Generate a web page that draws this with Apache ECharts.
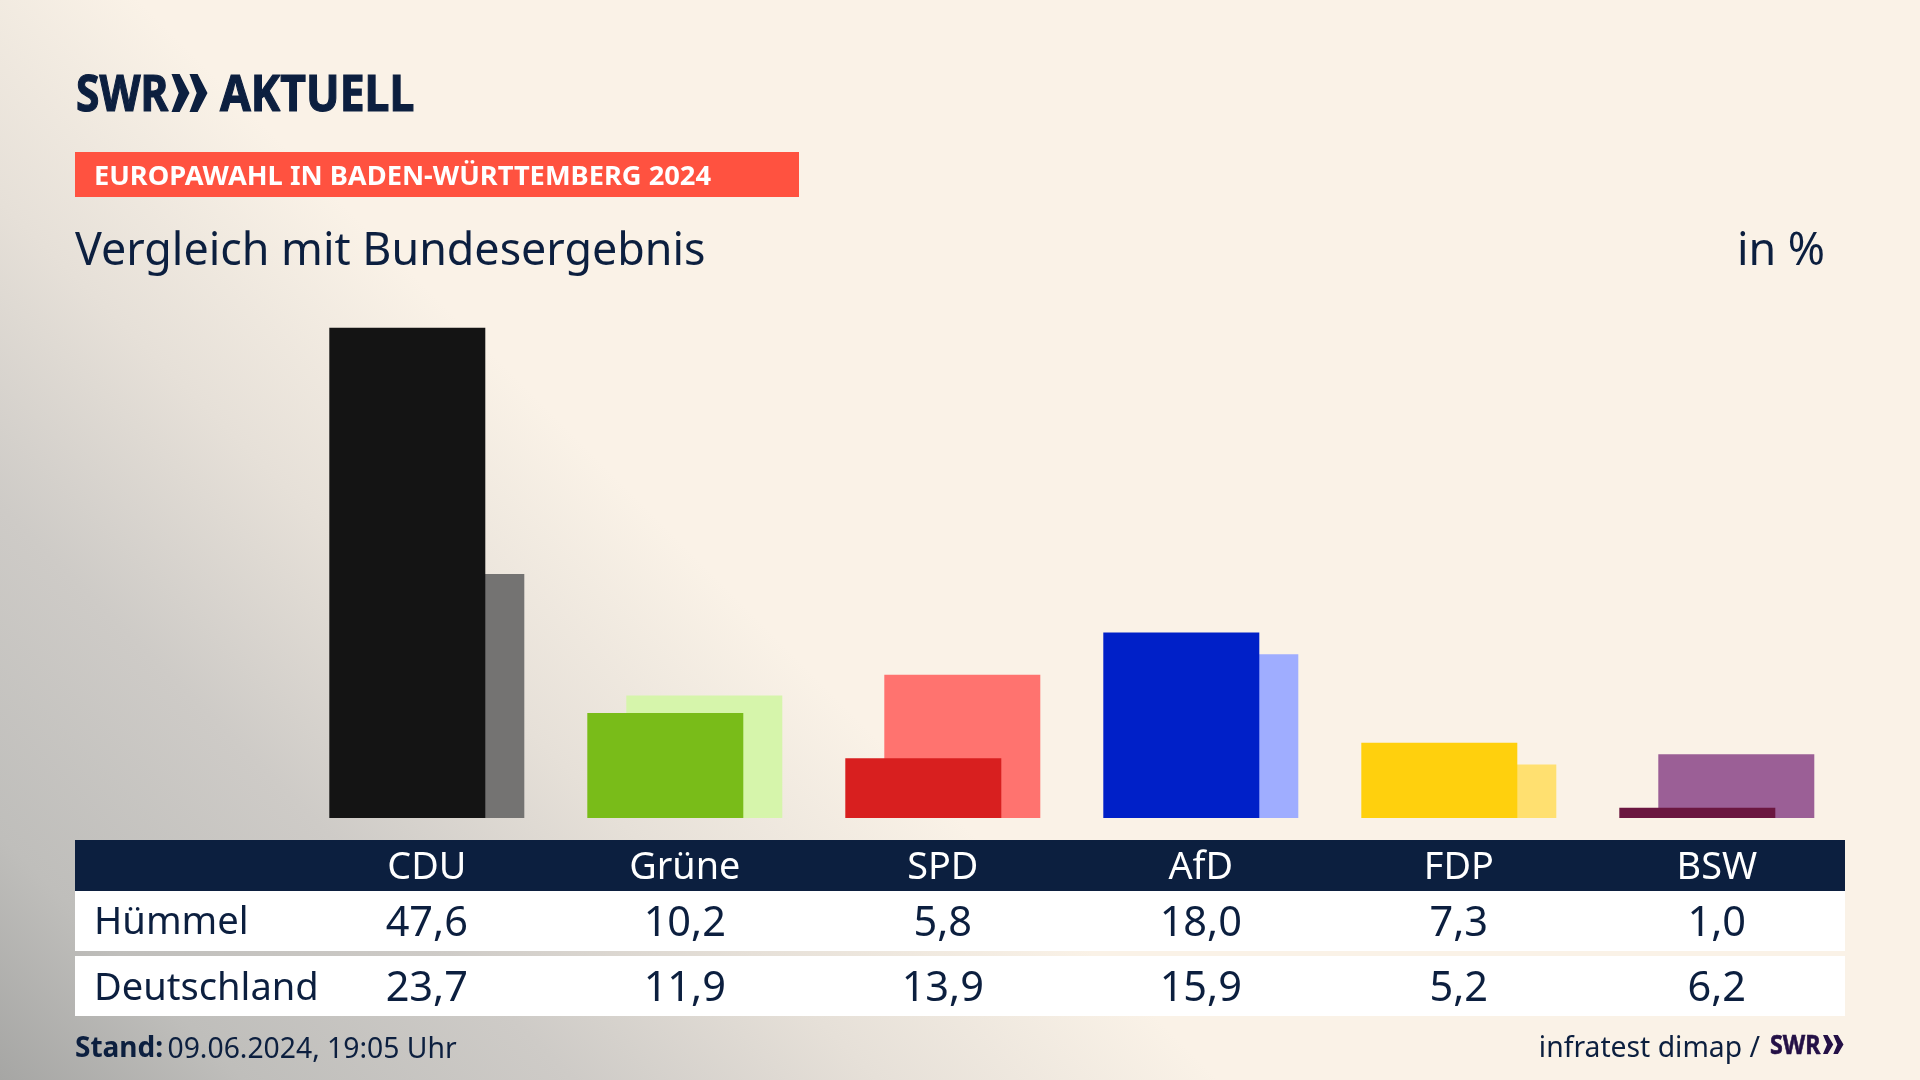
<!DOCTYPE html>
<html>
<head>
<meta charset="utf-8">
<title>Europawahl in Baden-Württemberg 2024</title>
<script src="https://cdn.jsdelivr.net/npm/echarts@6/dist/echarts.min.js"></script>
<style>
  html, body { margin: 0; padding: 0; background: #faf2e7; }
  #main { width: 1920px; height: 1080px; }
</style>
</head>
<body>
<div id="main"></div>
<script>
var parties = ['CDU', 'Grüne', 'SPD', 'AfD', 'FDP', 'BSW'];
var huemmel = [47.6, 10.2, 5.8, 18.0, 7.3, 1.0];
var deutschland = [23.7, 11.9, 13.9, 15.9, 5.2, 6.2];
var huemmelColors = ['#141414', '#79bc19', '#d81f1f', '#0020c8', '#ffd00d', '#6b1740'];
var deutschlandColors = ['#747372', '#d6f5ab', '#ff736f', '#9fadff', '#ffe070', '#9b5f96'];

(function() {
  var NAVY = '#0c1f3f';
  var PURPLE = '#241046';
  var FONT = '"Noto Sans", sans-serif';

  var myChart = echarts.init(document.getElementById('main'));

  function barData(values, colors) {
    return values.map(function(v, i) {
      return { value: v, itemStyle: { color: colors[i] } };
    });
  }

  var option = {
    animation: false,
    // grey corner fades out along the diagonal, contours run at about 45 degrees
    backgroundColor: {
      type: 'linear',
      x: 0,
      y: 1,
      x2: 0.3177,
      y2: 0.435,
      colorStops: [
        { offset: 0, color: '#a6a6a4' },
        { offset: 0.2, color: '#bfbebb' },
        { offset: 0.47, color: '#cecbc7' },
        { offset: 0.72, color: '#e6e0d8' },
        { offset: 1, color: '#faf2e7' }
      ]
    },
    grid: { left: 297.8, width: 1548, top: 303, height: 515 },
    xAxis: { type: 'category', data: parties, show: false },
    yAxis: { type: 'value', min: 0, max: 50, show: false },
    series: [
      {
        name: 'Hümmel',
        type: 'bar',
        z: 3,
        barWidth: 156,
        barGap: '-75%',
        data: barData(huemmel, huemmelColors)
      },
      {
        name: 'Deutschland',
        type: 'bar',
        z: 2,
        barWidth: 156,
        barGap: '-75%',
        data: barData(deutschland, deutschlandColors)
      }
    ]
  };
  myChart.setOption(option);

  function text(str, x, y, size, color, align, weight, scaleX) {
    return {
      type: 'text',
      x: x,
      y: y,
      z: 10,
      scaleX: scaleX || 1,
      style: {
        text: str,
        fill: color,
        align: align || 'left',
        verticalAlign: 'middle',
        font: (weight || 'normal') + ' ' + size + 'px ' + FONT
      }
    };
  }

  // the logo lettering is heavier than the bold font
  function logoText(str, x, y, size, color, scaleX, strokeWidth) {
    var t = text(str, x, y, size, color, 'left', 'bold', scaleX);
    t.style.stroke = color;
    t.style.lineWidth = strokeWidth;
    return t;
  }

  function rect(x, y, w, h, color) {
    return { type: 'rect', z: 5, shape: { x: x, y: y, width: w, height: h }, style: { fill: color } };
  }

  function chevrons(x, y, w, h, color) {
    return [0, 0.5].map(function(o) {
      var left = x + o * w;
      var u = w * 0.5;
      return {
        type: 'polygon',
        z: 10,
        shape: { points: [
          [left, y], [left + u * 0.45, y], [left + u, y + h / 2],
          [left + u * 0.45, y + h], [left, y + h], [left + u * 0.4, y + h / 2]
        ] },
        style: { fill: color }
      };
    });
  }

  function fmt(v) {
    return v.toFixed(1).replace('.', ',');
  }

  var items = [
    logoText('SWR', 76, 96.5, 50, NAVY, 0.85, 1.2),
    logoText('AKTUELL', 220, 96.5, 50, NAVY, 0.89, 1.2),
    rect(75, 152, 724, 45, '#ff5240'),
    text('EUROPAWAHL IN BADEN-WÜRTTEMBERG 2024', 94, 177, 27.25, '#ffffff', 'left', 'bold'),
    text('Vergleich mit Bundesergebnis', 75, 252, 44.8, NAVY),
    text('in %', 1825, 252, 44.8, NAVY, 'right'),
    rect(75, 840, 1770, 51, NAVY),
    rect(75, 891, 1770, 60, '#ffffff'),
    rect(75, 956, 1770, 60, '#ffffff'),
    text('Hümmel', 94, 923, 38.2, NAVY),
    text('Deutschland', 94, 989, 38.1, NAVY),
    text('Stand:', 75, 1049.5, 28, NAVY, 'left', 'bold'),
    text('09.06.2024, 19:05 Uhr', 167.5, 1049.5, 28.3, NAVY),
    text('infratest dimap /', 1760, 1048.5, 28.3, NAVY, 'right'),
    logoText('SWR', 1770, 1046, 27, PURPLE, 0.86, 0.6)
  ];
  items = items.concat(chevrons(171.5, 74, 36, 38, NAVY));
  items = items.concat(chevrons(1823, 1035, 20.5, 19, PURPLE));

  parties.forEach(function(name, i) {
    var cx = myChart.convertToPixel({ xAxisIndex: 0 }, name);
    items.push(text(name, cx, 868.5, 37.8, '#ffffff', 'center'));
    items.push(text(fmt(huemmel[i]), cx, 924, 41.5, NAVY, 'center'));
    items.push(text(fmt(deutschland[i]), cx, 989, 41.5, NAVY, 'center'));
  });

  myChart.setOption({ graphic: { elements: items } });
})();
</script>
</body>
</html>
